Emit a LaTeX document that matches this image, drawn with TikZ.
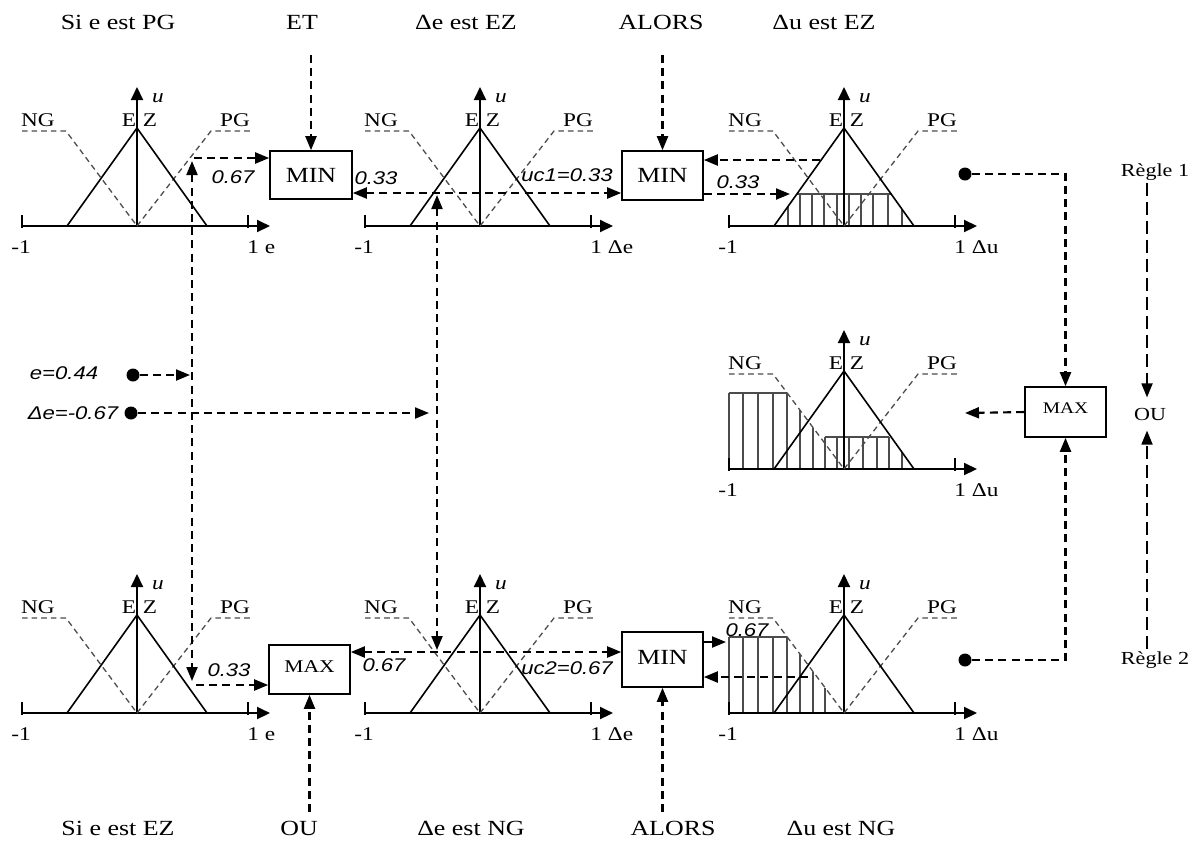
\documentclass[tikz,border=0pt]{standalone}
\usepackage{fontspec}
\setmainfont{Liberation Serif}[FakeStretch=1.2]
\newfontfamily\numfont{Liberation Sans}[FakeStretch=1.2]
\usetikzlibrary{arrows.meta}
\tikzset{
 >={Triangle[length=7pt,width=5.5pt]},
 axisln/.style={line width=1pt},
 axarr/.style={line width=1pt,-{Triangle[length=6.5pt,width=6pt]}},
 mfsol/.style={line width=0.8pt},
 mfdash/.style={line width=0.65pt, black!70, dash pattern=on 2.8pt off 2pt},
 conn/.style={line width=1.05pt, dash pattern=on 4pt off 2.6pt},
 longconn/.style={line width=0.9pt, dash pattern=on 6.5pt off 3pt},
 hatch/.style={line width=0.65pt, black!70},
 dot/.style={circle, fill=black, inner sep=0pt, minimum size=6.5pt},
 opbox/.style={draw, line width=0.8pt, inner sep=0pt},
 lbl/.style={font=\fontsize{9.7}{11}\selectfont, inner sep=1pt},
 title/.style={font=\fontsize{10.8}{13}\selectfont, inner sep=1pt},
 num/.style={font=\numfont\itshape\fontsize{9.2}{11}\selectfont, inner sep=1pt},
 ulab/.style={font=\itshape\fontsize{9.7}{11}\selectfont, inner sep=1pt},
}
\newcommand\mfchart[4]{%
\begin{scope}[shift={(#1,#2)}]
 \draw[axisln] (0,-11) -- (0,2);
 \draw[axisln] (226,-11) -- (226,2);
 \draw[axarr] (0,0) -- (248,0);
 \draw[axarr] (115,0) -- (115,-139);
 \draw[mfdash] (0,-95) -- (44,-95) -- (115,0);
 \draw[mfdash] (115,0) -- (189,-95) -- (228,-95);
 \draw[mfsol] (45,0) -- (115,-98) -- (185,0);
 \node[lbl] (#4-m1) at (-1,21) {-1};
 \node[lbl,anchor=west] (#4-p1) at (223,21) {1 #3};
 \node[lbl] (#4-ng) at (16,-106) {NG};
 \node[lbl] (#4-e) at (107,-106) {E};
 \node[lbl] (#4-z) at (128,-106) {Z};
 \node[lbl] (#4-pg) at (213,-106) {PG};
 \node[ulab] (#4-u) at (136,-128) {u};
\end{scope}}
\begin{document}
\begin{tikzpicture}[x=0.5pt,y=-0.5pt]
\useasboundingbox (0,0) rectangle (1202,842);
% ---------- hatched areas ----------
\foreach \x in {788,800,812,824,837,849,861,873,888,902}{
  \pgfmathsetmacro\hh{98*min(0.33,max(0,1-abs(\x-844)/70))}
  \draw[hatch] (\x,226) -- (\x,{226-\hh});
}
\draw[hatch] (797,194) -- (891,194);
\foreach \x in {729,743,758,773,787,800,813,825,837,849,863,877,889,902}{
  \pgfmathsetmacro\hh{max(95*min(0.8,min(1,max(0,(844-\x)/71))),98*min(0.33,max(0,1-abs(\x-844)/70)))}
  \draw[hatch] (\x,469) -- (\x,{469-\hh});
}
\draw[hatch] (729,393) -- (787,393);
\draw[hatch] (825,437) -- (889,437);
\foreach \x in {729,743,758,773,787,800,813,825}{
  \pgfmathsetmacro\hh{95*min(0.8,min(1,max(0,(844-\x)/71)))}
  \draw[hatch] (\x,713) -- (\x,{713-\hh});
}
\draw[hatch] (729,637) -- (787,637);
% ---------- charts ----------
\mfchart{22}{226}{e}{tl}
\mfchart{365}{226}{Δe}{tm}
\mfchart{729}{226}{Δu}{tr}
\mfchart{729}{469}{Δu}{mr}
\mfchart{22}{713}{e}{bl}
\mfchart{365}{713}{Δe}{bm}
\mfchart{729}{713}{Δu}{br}
% ---------- titles ----------
\node[title] (t1) at (118,22) {Si e est PG};
\node[title] (t2) at (302,22) {ET};
\node[title] (t3) at (466,22) {Δe est EZ};
\node[title] (t4) at (661,22) {ALORS};
\node[title] (t5) at (824,22) {Δu est EZ};
\node[title] (b1) at (118,828) {Si e est EZ};
\node[title] (b2) at (299,828) {OU};
\node[title] (b3) at (471,828) {Δe est NG};
\node[title] (b4) at (673,828) {ALORS};
\node[title] (b5) at (841,828) {Δu est NG};
% ---------- operator boxes ----------
\node[opbox, minimum width=41pt, minimum height=24pt, font=\fontsize{10.8}{13}\selectfont] (minA) at (311,175) {MIN};
\node[opbox, minimum width=40.5pt, minimum height=24.5pt, font=\fontsize{10.8}{13}\selectfont] (minB) at (662.5,175.5) {MIN};
\node[opbox, minimum width=40.5pt, minimum height=25pt, font=\fontsize{8.1}{10}\selectfont] (maxR) at (1065.5,412) {\raisebox{4pt}{MAX}};
\node[opbox, minimum width=40.5pt, minimum height=24.5pt, font=\fontsize{9}{11}\selectfont] (maxB) at (309.5,669.5) {\raisebox{2.5pt}{MAX}};
\node[opbox, minimum width=40.5pt, minimum height=27.5pt, font=\fontsize{10.8}{13}\selectfont] (minC) at (662.5,659.5) {\raisebox{2pt}{MIN}};
% ---------- inputs ----------
\node[num] (elab) at (64,373) {e=0.44};
\node[num] (delab) at (73,413) {Δe=-0.67};
\node[dot] (edot) at (133,375) {};
\node[dot] (dedot) at (131,413) {};
\coordinate (eHit) at (190,375);
\coordinate (deHit) at (429,413);
\draw[conn,->] (edot) -- (eHit);
\draw[conn,->] (dedot) -- (deHit);
% e vertical
\coordinate (eTop) at (192,161);
\coordinate (eBot) at (192,681);
\draw[conn,<->] (eTop) -- (eBot);
\coordinate (pgE) at (194,158);
\draw[conn,->] (pgE) -- (minA.west |- pgE);
\coordinate (ezE) at (196,685);
\draw[conn,->] (ezE) -- (maxB.west |- ezE);
% delta e vertical
\coordinate (deTop) at (437,195);
\coordinate (deBot) at (437,650);
\draw[conn,<->] (deTop) -- (deBot);
\coordinate (mid1) at (437,193);
\draw[conn,<->] (minA.east |- mid1) -- (minB.west |- mid1);
\coordinate (mid2) at (437,652);
\draw[conn,<->] (maxB.east |- mid2) -- (minC.west |- mid2);
% operators from titles
\coordinate (etS) at (311,55);
\draw[conn,->] (etS) -- (minA.north);
\coordinate (alS) at (662.5,55);
\draw[conn,->] (alS) -- (minB.north);
\coordinate (ouS) at (309.5,812);
\draw[conn,->] (ouS) -- (maxB.south);
\coordinate (al2S) at (662.5,812);
\draw[conn,->] (al2S) -- (minC.south);
% outputs to conclusion charts
\coordinate (outA) at (790,194);
\draw[conn,->] (minB.east |- outA) -- (outA);
\coordinate (ezU) at (820,160);
\draw[conn,->] (ezU) -- (minB.east |- ezU);
\coordinate (outB) at (726,642);
\draw[conn,->] (minC.east |- outB) -- (outB);
\coordinate (ngU) at (808,677);
\draw[conn,->] (ngU) -- (minC.east |- ngU);
% number labels
\node[num] (n1) at (233,177) {0.67};
\node[num] (n2) at (376,178) {0.33};
\node[num] (n3) at (567,175) {uc1=0.33};
\node[num] (n4) at (738,182) {0.33};
\node[num] (n5) at (229,670) {0.33};
\node[num] (n6) at (384,665) {0.67};
\node[num] (n7) at (567,668) {uc2=0.67};
\node[num] (n8) at (747,630) {0.67};
% aggregation
\node[dot] (r1) at (965,174) {};
\node[dot] (r2) at (965,660) {};
\draw[conn,->] (r1) -| (maxR.north);
\draw[conn,->] (r2) -| (maxR.south);
\coordinate (aggOut) at (965,413);
\draw[conn,->] (maxR.west) -- (aggOut);
% rules
\node[lbl, font=\fontsize{9.2}{11}\selectfont] (reg1) at (1155,172) {Règle 1};
\node[lbl, font=\fontsize{9.2}{11}\selectfont] (reg2) at (1155,660) {Règle 2};
\node[lbl, font=\fontsize{9.2}{11}\selectfont, inner sep=5pt] (ouR) at (1150,414) {OU};
\coordinate (rx) at (1147,0);
\draw[longconn,->] (reg1.south -| rx) -- (ouR.north -| rx);
\draw[longconn,->] (reg2.north -| rx) -- (ouR.south -| rx);
\end{tikzpicture}
\end{document}
